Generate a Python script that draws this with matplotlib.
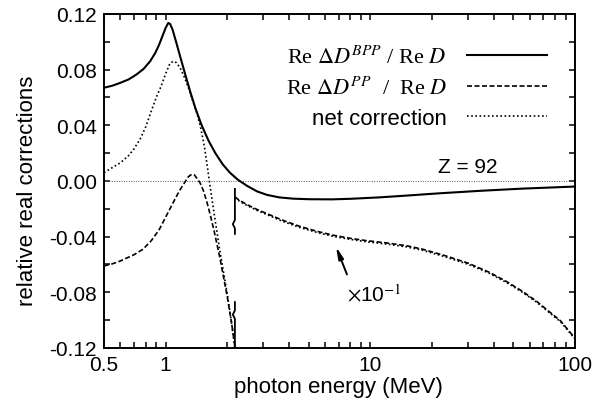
import matplotlib
matplotlib.use("Agg")
import matplotlib.pyplot as plt
from matplotlib.ticker import FixedLocator, NullFormatter

plt.rcParams["font.family"] = ["Liberation Sans", "DejaVu Sans"]
plt.rcParams["mathtext.fontset"] = "stix"
plt.rcParams["axes.unicode_minus"] = False

# Re dD^BPP / Re D  (solid, full range)
e_bpp = [0.5, 0.55, 0.6, 0.66, 0.72, 0.78, 0.84, 0.89, 0.93, 0.97, 1.0, 1.03,
         1.05, 1.08, 1.12, 1.18, 1.25, 1.32, 1.40, 1.50, 1.62, 1.75, 1.90, 2.06,
         2.25, 2.5, 2.8, 3.13, 3.6, 4.2, 5.0, 6.5, 8.0, 11, 15, 22, 35, 55, 100]
v_bpp = [0.067, 0.0685, 0.0705, 0.073, 0.0765, 0.0805, 0.086, 0.092, 0.098,
         0.105, 0.110, 0.1135, 0.113, 0.109, 0.101, 0.089, 0.076, 0.064, 0.052,
         0.040, 0.029, 0.020, 0.012, 0.0060, 0.0010, -0.0035, -0.0075, -0.0100,
         -0.0118, -0.0127, -0.0131, -0.0132, -0.0128, -0.0118, -0.0105, -0.0088,
         -0.0070, -0.0055, -0.0040]

# Re dD^PP / Re D below the break (dashed)
e_pp = [0.5, 0.55, 0.6, 0.7, 0.776, 0.85, 0.93, 1.0, 1.05, 1.12, 1.18, 1.24,
        1.29, 1.34, 1.38, 1.42, 1.47, 1.53, 1.59, 1.65, 1.72, 1.84, 2.0, 2.1, 2.18]
v_pp = [-0.061, -0.0595, -0.0575, -0.053, -0.049, -0.043, -0.035, -0.026, -0.020,
        -0.012, -0.006, -0.001, 0.003, 0.0048, 0.0045, 0.002, -0.001, -0.007,
        -0.015, -0.024, -0.035, -0.055, -0.083, -0.102, -0.119]

# net correction below the break (dotted)
e_net = [0.5, 0.54, 0.6, 0.657, 0.70, 0.75, 0.80, 0.85, 0.90, 0.95, 1.0, 1.05,
         1.09, 1.13, 1.18, 1.24, 1.30, 1.36, 1.42, 1.48, 1.55, 1.60, 1.65, 1.72,
         1.84, 2.0, 2.1, 2.18]
v_net = [0.006, 0.009, 0.013, 0.018, 0.023, 0.030, 0.039, 0.050, 0.060, 0.068,
         0.077, 0.0845, 0.086, 0.085, 0.081, 0.074, 0.066, 0.057, 0.049, 0.039,
         0.024, 0.010, -0.004, -0.022, -0.050, -0.081, -0.102, -0.12]

# above the break both curves are shown x 10^-1
e_hi = [2.18, 2.3, 2.5, 2.8, 3.13, 3.7, 4.5, 5.5, 6.6, 8, 9.5, 12, 15, 18, 23,
        30, 38, 46, 55, 65, 75, 85, 100]
v_pp_hi = [-0.0115, -0.0140, -0.0170, -0.0205, -0.0235, -0.0280, -0.0325,
           -0.0362, -0.0390, -0.0412, -0.0428, -0.0445, -0.0465, -0.049, -0.0535,
           -0.059, -0.0655, -0.072, -0.079, -0.0865, -0.094, -0.1005, -0.113]
v_net_hi = [-0.0120, -0.0146, -0.0176, -0.0212, -0.0242, -0.0288, -0.0333,
            -0.0370, -0.0398, -0.0420, -0.0436, -0.0453, -0.0473, -0.0498,
            -0.0543, -0.0598, -0.0662, -0.0727, -0.0797, -0.0871, -0.0946,
            -0.1011, -0.1135]

# break markers
brk_up_e = [2.18, 2.18, 2.13, 2.18, 2.18]
brk_up_v = [-0.0057, -0.028, -0.031, -0.034, -0.038]
brk_lo_e = [2.18, 2.18, 2.13, 2.18, 2.18]
brk_lo_v = [-0.087, -0.093, -0.096, -0.099, -0.12]

fig = plt.figure(figsize=(6.1, 4.06), dpi=100)
ax = fig.add_axes([0.1705, 0.1404, 0.7721, 0.8227])

ax.axhline(0, color="#555555", lw=0.7, ls=(0, (1, 1.5)))

ax.plot(e_bpp, v_bpp, color="black", lw=1.5,
        label=r"Re $\Delta D^{BPP}$ / Re $D$")
ax.plot(e_pp, v_pp, color="black", lw=1.2, ls=(0, (3, 1.5)),
        label=r"Re $\Delta D^{PP}$  /  Re $D$")
ax.plot(e_net, v_net, color="black", lw=1.2, ls=(0, (1, 1.5)),
        label="net correction")
ax.plot(e_hi, v_pp_hi, color="black", lw=1.2, ls=(0, (3, 1.5)))
ax.plot(e_hi, v_net_hi, color="black", lw=1.2, ls=(0, (1, 1.5)))
ax.plot(brk_up_e, brk_up_v, color="black", lw=1.3)
ax.plot(brk_lo_e, brk_lo_v, color="black", lw=1.3)

ax.set_xscale("log")
ax.set_xlim(0.5, 100)
ax.set_ylim(-0.12, 0.12)
ax.set_xticks([0.5, 1, 10, 100])
ax.set_xticklabels(["0.5", "1", "10", "100"])
minor = [0.6, 0.7, 0.8, 0.9] + list(range(2, 10)) + list(range(20, 100, 10))
ax.xaxis.set_minor_locator(FixedLocator(minor))
ax.xaxis.set_minor_formatter(NullFormatter())
yt = [-0.12, -0.08, -0.04, 0.0, 0.04, 0.08, 0.12]
ax.set_yticks(yt)
ax.set_yticklabels([f"{v:.2f}" for v in yt])
ax.yaxis.set_minor_locator(FixedLocator([-0.10, -0.06, -0.02, 0.02, 0.06, 0.10]))

ax.tick_params(which="both", direction="in", top=True, right=True,
               length=4.5, width=1.1, labelsize=15)
ax.tick_params(axis="y", pad=5)
ax.tick_params(axis="x", pad=5)
for s in ax.spines.values():
    s.set_linewidth(1.4)

ax.set_xlabel("photon energy (MeV)", fontsize=16)
ax.set_ylabel("relative real corrections", fontsize=16)
ax.xaxis.set_label_coords(0.497, -0.084)
ax.yaxis.set_label_coords(-0.140, 0.475)

leg = ax.legend(loc="upper right", bbox_to_anchor=(0.9406, 0.905),
                frameon=False, markerfirst=False, fontsize=16,
                handlelength=3.6, handletextpad=0.9, labelspacing=0.38,
                borderpad=0, borderaxespad=0)
for t in leg.get_texts()[:2]:
    t.set_fontfamily("Liberation Serif")

ax.text(30, 0.0105, "Z = 92", fontsize=15, ha="center", va="center")
ax.text(10.5, -0.081, r"$\times$10$^{-1}$", fontsize=15, ha="center", va="center")
ax.annotate("", xy=(6.72, -0.0453), xytext=(7.78, -0.069),
            arrowprops=dict(arrowstyle="-|>,head_length=0.7,head_width=0.15",
                            color="black", lw=1.4))

fig.savefig("out.png", dpi=100)
